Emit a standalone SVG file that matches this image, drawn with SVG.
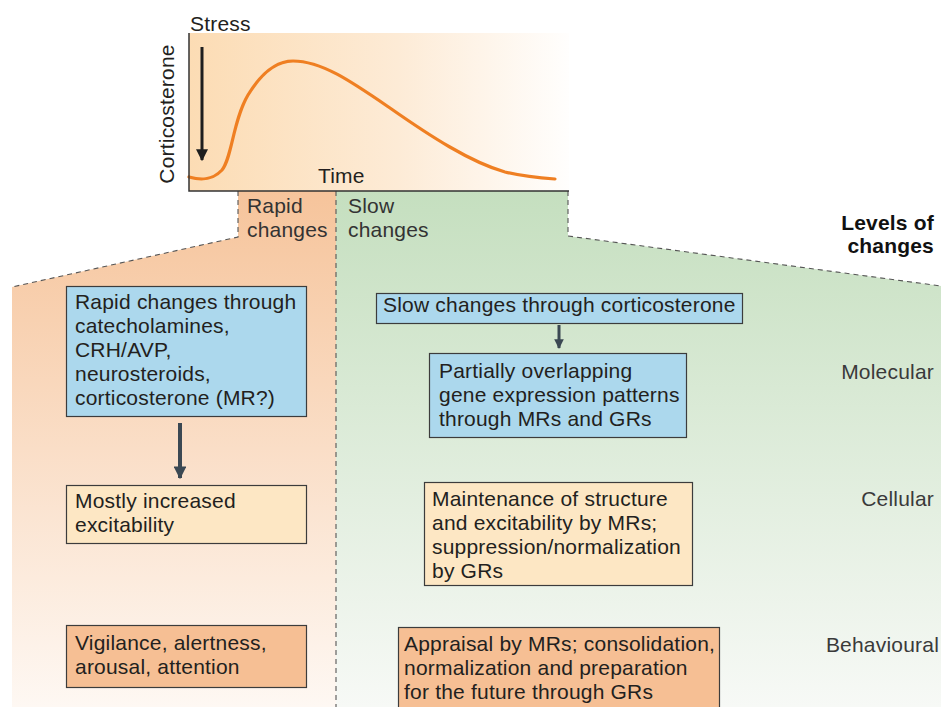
<svg xmlns="http://www.w3.org/2000/svg" width="941" height="707" viewBox="0 0 941 707">
<defs>
<linearGradient id="gChart" x1="0" y1="0" x2="1" y2="0">
<stop offset="0" stop-color="#fcdcb4"/>
<stop offset="0.55" stop-color="#fdebd6"/>
<stop offset="1" stop-color="#fffefd"/>
</linearGradient>
<linearGradient id="gRapid" gradientUnits="userSpaceOnUse" x1="0" y1="191" x2="0" y2="707">
<stop offset="0" stop-color="#f6c49b"/>
<stop offset="1" stop-color="#fef8f3"/>
</linearGradient>
<linearGradient id="gSlow" gradientUnits="userSpaceOnUse" x1="0" y1="191" x2="0" y2="707">
<stop offset="0" stop-color="#c5dfbf"/>
<stop offset="1" stop-color="#f7f9f6"/>
</linearGradient>
<marker id="ah" viewBox="0 0 10 10" refX="9" refY="5" markerWidth="3.2" markerHeight="3.2" orient="auto" markerUnits="strokeWidth">
<path d="M0,0 L10,5 L0,10 z" fill="#3b4853"/>
</marker>
<marker id="ahb" viewBox="0 0 10 10" refX="9" refY="5" markerWidth="4" markerHeight="4" orient="auto" markerUnits="strokeWidth">
<path d="M0,0 L10,5 L0,10 z" fill="#1e1e1e"/>
</marker>
<style>
text{font-family:"Liberation Sans",Arial,sans-serif;font-size:21px;letter-spacing:0.2px;fill:#231f20}
.lbl{fill:#333}
.lvl{fill:#3a3a3a;text-anchor:end}
.box{stroke:#3c3c3c;stroke-width:1.2}
.blue{fill:#acd8ed}
.cream{fill:#fde7c4}
.orange{fill:#f6bf94}
.dash{fill:none;stroke:#555;stroke-width:1.1;stroke-dasharray:5,4}
.conn{stroke:#3b4853;fill:none}
</style>
</defs>

<g id="background">
<polygon points="238,191 336,191 336,707 12,707 12,287 238,237" fill="url(#gRapid)"/>
<polygon points="336,191 568,191 568,236 941,286 941,707 336,707" fill="url(#gSlow)"/>
<polyline class="dash" points="238,191 238,237 12,287"/>
<polyline class="dash" points="568,191 568,236 941,286"/>
<line class="dash" x1="336" y1="191" x2="336" y2="707"/>
</g>

<g id="chart">
<rect x="189" y="33" width="380" height="158" fill="url(#gChart)"/>
<path d="M189,177 C200,180 212,181 222,170 C232,158 233,120 248,95 C262,72 278,61 293,61 C322,61 352,82 390,108 C430,136 470,162 505,172 C525,177 540,178 555,179" fill="none" stroke="#ef7f22" stroke-width="3.2" stroke-linecap="round"/>
<polyline points="189,33 189,191 569,191" fill="none" stroke="#333" stroke-width="1.5"/>
<line x1="202" y1="47" x2="202" y2="160" stroke="#1e1e1e" stroke-width="3" marker-end="url(#ahb)"/>
<text x="190" y="31">Stress</text>
<text x="318" y="183">Time</text>
<text transform="translate(174,114) rotate(-90)" text-anchor="middle">Corticosterone</text>
</g>

<g id="label-rapid">
<text class="lbl" x="247" y="213">Rapid</text>
<text class="lbl" x="247" y="237">changes</text>
</g>
<g id="label-slow">
<text class="lbl" x="348" y="213">Slow</text>
<text class="lbl" x="348" y="237">changes</text>
</g>

<g id="levels-title">
<text x="934" y="230" text-anchor="end" style="font-weight:bold;fill:#111">Levels of</text>
<text x="934" y="253" text-anchor="end" style="font-weight:bold;fill:#111">changes</text>
</g>
<g id="level-molecular"><text class="lvl" x="934" y="379">Molecular</text></g>
<g id="level-cellular"><text class="lvl" x="934" y="506">Cellular</text></g>
<g id="level-behavioural"><text class="lvl" x="939" y="652">Behavioural</text></g>

<g id="rapid-mechanisms">
<rect class="box blue" x="66.5" y="286.5" width="240" height="130"/>
<text x="75" y="309">Rapid changes through</text>
<text x="75" y="333">catecholamines,</text>
<text x="75" y="357">CRH/AVP,</text>
<text x="75" y="381">neurosteroids,</text>
<text x="75" y="405">corticosterone (MR?)</text>
</g>

<g id="rapid-cellular">
<rect class="box cream" x="66.5" y="485.5" width="240" height="58"/>
<text x="75" y="508">Mostly increased</text>
<text x="75" y="532">excitability</text>
</g>

<g id="rapid-behavioural">
<rect class="box orange" x="66.5" y="625.5" width="240" height="62"/>
<text x="75" y="650">Vigilance, alertness,</text>
<text x="75" y="674">arousal, attention</text>
</g>

<g id="slow-mechanism">
<rect class="box blue" x="376.5" y="293.5" width="366" height="30"/>
<text x="383" y="312">Slow changes through corticosterone</text>
</g>

<g id="slow-molecular">
<rect class="box blue" x="429.5" y="353.5" width="257" height="84"/>
<text x="439" y="378">Partially overlapping</text>
<text x="439" y="402">gene expression patterns</text>
<text x="439" y="426">through MRs and GRs</text>
</g>

<g id="slow-cellular">
<rect class="box cream" x="424.5" y="482.5" width="268" height="103"/>
<text x="432" y="506">Maintenance of structure</text>
<text x="432" y="530">and excitability by MRs;</text>
<text x="432" y="554">suppression/normalization</text>
<text x="432" y="578">by GRs</text>
</g>

<g id="slow-behavioural">
<rect class="box orange" x="398.5" y="627.5" width="321" height="90"/>
<text x="404" y="651">Appraisal by MRs; consolidation,</text>
<text x="404" y="675">normalization and preparation</text>
<text x="404" y="699">for the future through GRs</text>
</g>

<g id="connectors">
<line class="conn" x1="180" y1="423" x2="180" y2="478" stroke-width="4" marker-end="url(#ah)"/>
<line class="conn" x1="559" y1="325" x2="559" y2="348" stroke-width="3" marker-end="url(#ah)"/>
</g>
</svg>
